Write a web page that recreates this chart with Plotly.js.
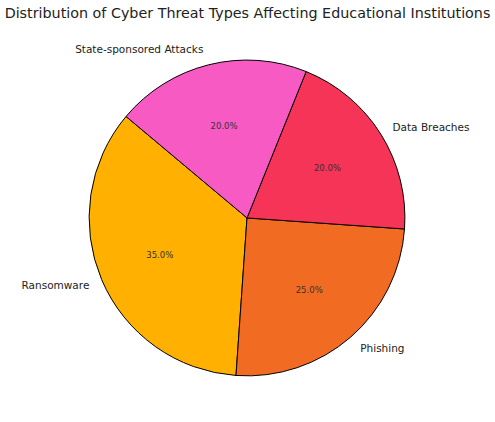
<!DOCTYPE html>
<html>
<head>
<meta charset="utf-8">
<script src="https://cdn.plot.ly/plotly-3.0.1.min.js"></script>
<style>
  html, body { margin: 0; padding: 0; background: #fff; }
  #chart { width: 495px; height: 422px; }
</style>
</head>
<body>
<div id="chart"></div>
<script>
// threat types and their share
var threatTypes = ['Ransomware', 'Phishing', 'Data Breaches', 'State-sponsored Attacks'];
var shares = [35, 25, 20, 20];
var sliceColors = ['#FFB000', '#F26B22', '#F53457', '#F75AC3'];

// plotly ends the first slice here when going counterclockwise
var pieRotation = -176;
var clear = threatTypes.map(function () { return 'rgba(0,0,0,0)'; });

// all three layers share the same centre, only the radius differs
function pieLayer(domain, extra) {
  var t = {
    type: 'pie',
    labels: threatTypes,
    values: shares,
    sort: false,
    direction: 'counterclockwise',
    rotation: pieRotation,
    domain: domain,
    automargin: false,
    hoverinfo: 'skip',
    showlegend: false
  };
  for (var k in extra) t[k] = extra[k];
  return t;
}

// coloured slices
var slices = pieLayer({ x: [0.180, 0.818], y: [0.109, 0.858] }, {
  marker: { colors: sliceColors, line: { color: '#000', width: 1 } },
  textinfo: 'none'
});

// bigger see-through pie so the names sit a bit further out
var names = pieLayer({ x: [0.1596, 0.8384], y: [0.0853, 0.8815] }, {
  marker: { colors: clear, line: { width: 0 } },
  textinfo: 'label',
  textposition: 'outside',
  outsidetextfont: { family: 'DejaVu Sans', size: 10.5, color: '#222' }
});

// see-through ring that puts the percentages around 0.6 of the radius
var pcts = pieLayer({ x: [0.195, 0.803], y: [0.1268, 0.840] }, {
  hole: 0.26,
  marker: { colors: clear, line: { width: 0 } },
  texttemplate: '%{percent:.1%}',
  textposition: 'inside',
  insidetextorientation: 'horizontal',
  insidetextfont: { family: 'DejaVu Sans', size: 8.5, color: '#333' }
});

var layout = {
  width: 495,
  height: 422,
  margin: { l: 0, r: 0, t: 0, b: 0 },
  paper_bgcolor: '#fff',
  title: {
    text: 'Distribution of Cyber Threat Types Affecting Educational Institutions',
    font: { family: 'DejaVu Sans', size: 14.3, color: '#222' },
    x: 0.5,
    xanchor: 'center',
    y: 0.97,
    yanchor: 'middle'
  },
  showlegend: false
};

Plotly.newPlot('chart', [slices, names, pcts], layout, { displayModeBar: false, staticPlot: true });
</script>
</body>
</html>
